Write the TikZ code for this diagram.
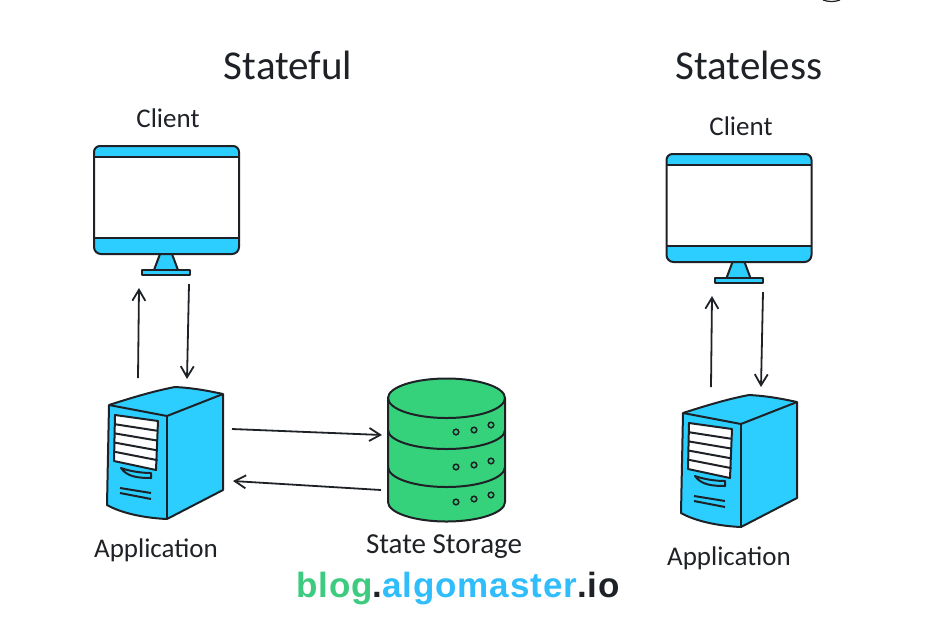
\documentclass[tikz,border=0pt]{standalone}
\usepackage{fontspec}
\usepackage{xcolor}
\usetikzlibrary{arrows.meta}
\setmainfont{Carlito}
\newfontfamily\markfont[LetterSpace=2.5]{Liberation Sans}
\definecolor{partblue}{HTML}{2BCEFF}
\definecolor{partgreen}{HTML}{36D27B}
\definecolor{inkdark}{HTML}{1E2226}
\definecolor{markgreen}{HTML}{3CCB7F}
\definecolor{markblue}{HTML}{2FBDFB}

\tikzset{
  part/.style={draw=inkdark, line width=2pt, line join=round},
  flow/.style={draw=inkdark, line width=1.8pt, -{Straight Barb[length=11pt,width=13pt]}},
  headtext/.style={font=\fontsize{41}{46}\selectfont, text=inkdark},
  smalltext/.style={font=\fontsize{27}{32}\selectfont, text=inkdark},
  monitorpic/.pic={
    % bands
    \fill[partblue] (0,11) -- (0,6) arc[start angle=180,end angle=270,radius=6] -- (139,0)
      arc[start angle=270,end angle=360,radius=6] -- (145,11) -- cycle;
    \fill[partblue] (0,92) -- (0,101) arc[start angle=180,end angle=90,radius=7] -- (138,108)
      arc[start angle=90,end angle=0,radius=7] -- (145,92) -- cycle;
    \draw[part] (0,6) arc[start angle=180,end angle=270,radius=6] -- (139,0)
      arc[start angle=270,end angle=360,radius=6] -- (145,101)
      arc[start angle=0,end angle=90,radius=7] -- (7,108)
      arc[start angle=90,end angle=180,radius=7] -- cycle;
    \draw[part] (0,11) -- (145,11);
    \draw[part] (0,92) -- (145,92);
    % stand
    \draw[part, fill=partblue] (66,108) -- (78,108) -- (84,124) -- (60,124) -- cycle;
    \draw[part, fill=partblue] (48,124) rectangle (96,129);
  },
  towerpic/.pic={
    \draw[part, fill=partblue] (0,0) .. controls (25,-8) and (45,-14) .. (66,-18)
      .. controls (85,-17) and (100,-14) .. (114,-11) -- (114,85) -- (58,114)
      .. controls (35,113) and (12,108) .. (-2,100) -- cycle;
    \draw[part] (0,0) -- (58,11) -- (114,-11);
    \draw[part] (58,11) -- (58,114);
    % vent
    \draw[part, fill=white] (6,10) -- (49,16) -- (47,65) -- (5,56) -- cycle;
    \foreach \i in {1,2,3,4} {
      \draw[part] (5.8,10+9.2*\i) -- (48.6,16+9.8*\i);
    }
    % slot
    \draw[part, fill=partblue] (12,63) .. controls (20,66) and (32,68) .. (42,68)
      -- (42,73) .. controls (30,73) and (18,72) .. (12,63) -- cycle;
    \draw[part] (11,83) -- (42,88);
    \draw[part] (11,88) -- (42,94);
  },
}

\begin{document}
\begin{tikzpicture}[x=1pt,y=-1pt]
  \useasboundingbox (0,0) rectangle (948,633);

  % arrow ends
  \coordinate (p1) at (138,378);
  \coordinate (p2) at (139,288);
  \coordinate (p3) at (189,284);
  \coordinate (p4) at (187,379);
  \coordinate (p5) at (232,429);
  \coordinate (p6) at (382,435);
  \coordinate (p7) at (381,490);
  \coordinate (p8) at (233,481);
  % second column
  \coordinate (p9) at (711,387);
  \coordinate (p10) at (712,296);
  \coordinate (p11) at (763,292);
  \coordinate (p12) at (761,387);

  \node[headtext] (statefultitle) at (288,65) {Stateful};
  \node[headtext] (statelesstitle) at (749,65) {Stateless};
  \node[smalltext] (clientone) at (168,118) {Client};
  \node[smalltext] (clienttwo) at (741,126) {Client};
  \node[smalltext] (appone) at (156,550) {Application};
  \node[smalltext] (apptwo) at (729,558) {Application};
  \node[smalltext, font=\fontsize{29}{32}\selectfont] (storagelabel) at (444,547) {State Storage};

  \pic at (94,146) {monitorpic};
  \pic at (666.5,154) {monitorpic};
  \pic at (109,405) {towerpic};
  \pic at (683,413) {towerpic};

  % storage
  \draw[part, fill=partgreen] (388,398) arc[start angle=180,end angle=360,x radius=58.5,y radius=19.5]
    -- (505,502) arc[start angle=0,end angle=180,x radius=58.5,y radius=19.5] -- cycle;
  \draw[part] (388,398) arc[start angle=180,end angle=0,x radius=58.5,y radius=20];
  \draw[part] (388,430) arc[start angle=180,end angle=0,x radius=58.5,y radius=19];
  \draw[part] (388,467) arc[start angle=180,end angle=0,x radius=58.5,y radius=20];
  \foreach \dx/\dy in {456/432,474/430,491/425,456/467,474/465,491/461,456/502,474/499,491/495} {
    \draw[inkdark, line width=1.5pt] (\dx,\dy) circle (2.8pt);
  }

  \draw[flow] (p1) -- (p2);
  \draw[flow] (p3) -- (p4);
  \draw[flow] (p5) -- (p6);
  \draw[flow] (p7) -- (p8);
  \draw[flow] (p9) -- (p10);
  \draw[flow] (p11) -- (p12);

  % cut off at the top edge
  \draw[inkdark, line width=1.2pt] (823,0) .. controls (828,2) and (835,2) .. (840,0);

  \node[font=\markfont\bfseries\fontsize{35}{38}\selectfont, inner sep=0pt] (siteurl) at (458,589)
    {\textcolor{markgreen}{blog}\textcolor{inkdark}{.}\textcolor{markblue}{algomaster}\textcolor{inkdark}{.io}};
\end{tikzpicture}
\end{document}
